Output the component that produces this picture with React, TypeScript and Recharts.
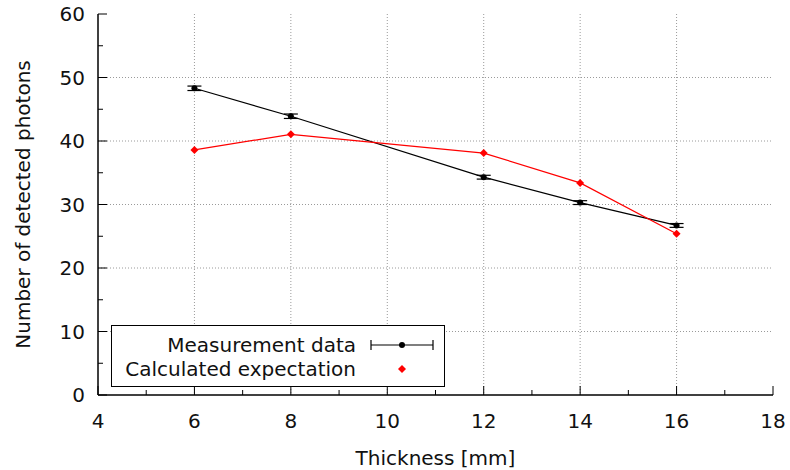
import { LineChart, Line, XAxis, YAxis, CartesianGrid, ErrorBar, Legend } from "recharts";

// values
const thickness = [6, 8, 12, 14, 16];
const measured = [48.3, 43.9, 34.3, 30.3, 26.7];
const measuredErr = [0.35, 0.35, 0.3, 0.3, 0.3];
const expected = [38.6, 41.05, 38.1, 33.4, 25.4];

const seriesNames = ["Measurement data", "Calculated expectation"];
const xTicks = [4, 5, 6, 7, 8, 9, 10, 11, 12, 13, 14, 15, 16, 17, 18];
const yTicks = [0, 5, 10, 15, 20, 25, 30, 35, 40, 45, 50, 55, 60];
const xGrid = [6, 8, 10, 12, 14, 16];
const yGrid = [10, 20, 30, 40, 50];
const xTitle = "Thickness [mm]";
const yTitle = "Number of detected photons";

const data = thickness.map((t, i) => ({
  t,
  measured: measured[i],
  err: measuredErr[i],
  expected: expected[i],
}));

const FONT = "'DejaVu Sans', sans-serif";
const TEXT = "#111";

// gnuplot-style ticks: pointing into the plot, labels only on the major ones
function BottomTick({ x, y, payload }: any) {
  const major = payload.value % 2 === 0;
  return (
    <g>
      <line x1={x} y1={y} x2={x} y2={y - (major ? 9 : 5)} stroke="#000" strokeWidth={1} />
      {major && (
        <text x={x} y={y + 33} textAnchor="middle" fontFamily={FONT} fontSize={20} fill={TEXT}>
          {payload.value}
        </text>
      )}
    </g>
  );
}

function TopTick({ x, y, payload }: any) {
  const major = payload.value % 2 === 0;
  return <line x1={x} y1={y} x2={x} y2={y + (major ? 9 : 5)} stroke="#000" strokeWidth={1} />;
}

function LeftTick({ x, y, payload }: any) {
  const major = payload.value % 10 === 0;
  return (
    <g>
      <line x1={x} y1={y} x2={x + (major ? 9 : 5)} y2={y} stroke="#000" strokeWidth={1} />
      {major && (
        <text x={x - 13} y={y} textAnchor="end" dominantBaseline="central" fontFamily={FONT} fontSize={20} fill={TEXT}>
          {payload.value}
        </text>
      )}
    </g>
  );
}

function RightTick({ x, y, payload }: any) {
  const major = payload.value % 10 === 0;
  return <line x1={x} y1={y} x2={x - (major ? 9 : 5)} y2={y} stroke="#000" strokeWidth={1} />;
}

function Diamond({ cx, cy }: any) {
  if (cx == null || cy == null) return null;
  const r = 4;
  return <path d={`M${cx},${cy - r}L${cx + r},${cy}L${cx},${cy + r}L${cx - r},${cy}Z`} fill="#ff0000" />;
}

function KeyBox() {
  const row = { height: 24, display: "flex", alignItems: "center" } as const;
  const label = { width: 244, textAlign: "right" as const, whiteSpace: "nowrap" as const };
  return (
    <div
      style={{
        width: 332,
        height: 53,
        paddingTop: 7,
        border: "1px solid #000",
        background: "#fff",
        fontFamily: FONT,
        fontSize: 20,
        color: TEXT,
        lineHeight: "24px",
      }}
    >
      <div style={row}>
        <div style={label}>{seriesNames[0]}</div>
        <svg width={88} height={24}>
          <line x1={15} y1={12} x2={77} y2={12} stroke="#000" strokeWidth={1.2} />
          <line x1={15} y1={7} x2={15} y2={17} stroke="#000" strokeWidth={1.2} />
          <line x1={77} y1={7} x2={77} y2={17} stroke="#000" strokeWidth={1.2} />
          <circle cx={46} cy={12} r={3} fill="#000" />
        </svg>
      </div>
      <div style={row}>
        <div style={label}>{seriesNames[1]}</div>
        <svg width={88} height={24}>
          <Diamond cx={46} cy={12} />
        </svg>
      </div>
    </div>
  );
}

export default function App() {
  return (
    <div style={{ position: "absolute", left: 0, top: 0, width: 790, height: 470, background: "#fff" }}>
      <LineChart width={790} height={470} data={data} margin={{ top: 14, right: 17, bottom: 0, left: 0 }}>
        <CartesianGrid
          horizontalValues={yGrid}
          verticalValues={xGrid}
          stroke="#9a9a9a"
          strokeDasharray="1 2"
          strokeWidth={1}
        />

        <XAxis
          xAxisId="top"
          orientation="top"
          type="number"
          dataKey="t"
          domain={[4, 18]}
          ticks={xTicks}
          interval={0}
          height={0}
          tickSize={0}
          tickMargin={0}
          tick={<TopTick />}
          axisLine={{ stroke: "#000", strokeWidth: 1.5 }}
        />
        <XAxis
          type="number"
          dataKey="t"
          domain={[4, 18]}
          ticks={xTicks}
          interval={0}
          height={75}
          tickSize={0}
          tickMargin={0}
          tick={<BottomTick />}
          axisLine={{ stroke: "#000", strokeWidth: 1.5 }}
          label={{
            content: ({ viewBox }: any) => (
              <text
                x={viewBox.x + viewBox.width / 2}
                y={viewBox.y + 70}
                textAnchor="middle"
                fontFamily={FONT}
                fontSize={20}
                fill={TEXT}
              >
                {xTitle}
              </text>
            ),
          }}
        />

        <YAxis
          yAxisId="right"
          orientation="right"
          type="number"
          domain={[0, 60]}
          ticks={yTicks}
          interval={0}
          width={0}
          tickSize={0}
          tickMargin={0}
          tick={<RightTick />}
          axisLine={{ stroke: "#000", strokeWidth: 1.5 }}
        />
        <YAxis
          type="number"
          domain={[0, 60]}
          ticks={yTicks}
          interval={0}
          width={98}
          tickSize={0}
          tickMargin={0}
          tick={<LeftTick />}
          axisLine={{ stroke: "#000", strokeWidth: 1.5 }}
          label={{
            content: ({ viewBox }: any) => {
              const cx = viewBox.x + 23;
              const cy = viewBox.y + viewBox.height / 2;
              return (
                <text
                  x={cx}
                  y={cy}
                  transform={`rotate(-90, ${cx}, ${cy})`}
                  textAnchor="middle"
                  dominantBaseline="central"
                  fontFamily={FONT}
                  fontSize={20}
                  fill={TEXT}
                >
                  {yTitle}
                </text>
              );
            },
          }}
        />

        <Legend
          layout="horizontal"
          verticalAlign="middle"
          content={<KeyBox />}
          wrapperStyle={{ position: "absolute", left: 111, top: 325, width: 334, height: 62 }}
        />

        <Line
          type="linear"
          dataKey="measured"
          name={seriesNames[0]}
          stroke="#000"
          strokeWidth={1.2}
          dot={{ r: 3, fill: "#000", stroke: "none" }}
          activeDot={false}
          isAnimationActive={false}
        >
          <ErrorBar dataKey="err" direction="y" width={7} stroke="#000" strokeWidth={1.2} isAnimationActive={false} />
        </Line>
        <Line
          type="linear"
          dataKey="expected"
          name={seriesNames[1]}
          stroke="#ff0000"
          strokeWidth={1.2}
          dot={<Diamond />}
          activeDot={false}
          isAnimationActive={false}
        />
      </LineChart>
    </div>
  );
}
